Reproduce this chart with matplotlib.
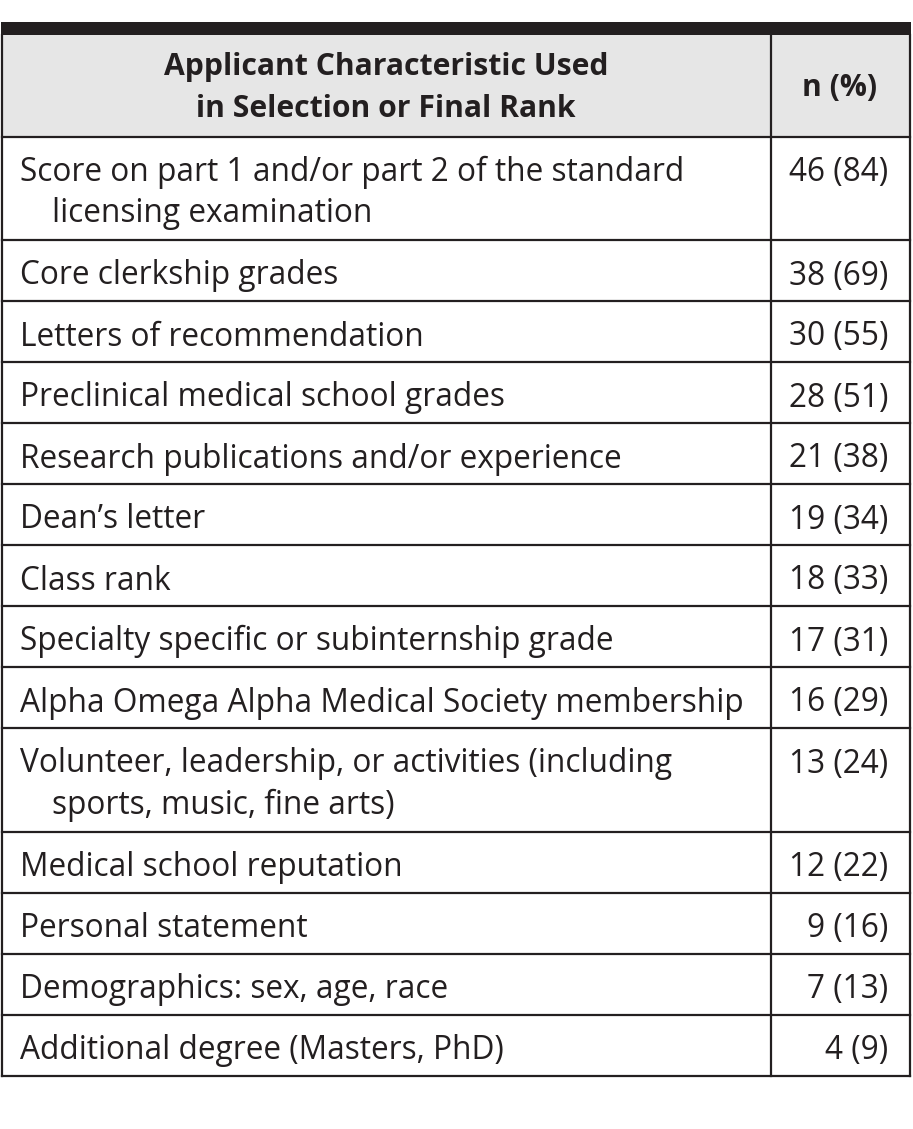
import matplotlib
matplotlib.use("Agg")
import matplotlib.pyplot as plt

header_left = ["Applicant Characteristic Used", "in Selection or Final Rank"]
header_right = "n (%)"

characteristics = [
    ["Score on part 1 and/or part 2 of the standard", "licensing examination"],
    ["Core clerkship grades"],
    ["Letters of recommendation"],
    ["Preclinical medical school grades"],
    ["Research publications and/or experience"],
    ["Dean\u2019s letter"],
    ["Class rank"],
    ["Specialty specific or subinternship grade"],
    ["Alpha Omega Alpha Medical Society membership"],
    ["Volunteer, leadership, or activities (including", "sports, music, fine arts)"],
    ["Medical school reputation"],
    ["Personal statement"],
    ["Demographics: sex, age, race"],
    ["Additional degree (Masters, PhD)"],
]
counts = [46, 38, 30, 28, 21, 19, 18, 17, 16, 13, 12, 9, 7, 4]
percents = [84, 69, 55, 51, 38, 34, 33, 31, 29, 24, 22, 16, 13, 9]

W, H = 913, 1129
fig = plt.figure(figsize=(W / 100, H / 100), dpi=100)
ax = fig.add_axes([0, 0, 1, 1])
ax.set_xlim(0, W)
ax.set_ylim(H, 0)
ax.axis("off")

ink = "#231f20"
font = "Open Sans"
fs = 22.8
fs_head = 21.7
lw = 1.6

x_left, x_div, x_right = 1.5, 770.5, 909.5
band_top, header_top, header_bot = 22, 34.5, 136.5
single_h, extra_h, text_step = 61.0, 42.5, 41.0

# top thick band
ax.fill_between([x_left - 1, x_right + 1], band_top, header_top, color=ink, lw=0, zorder=3)
# header background
ax.fill_between([x_left, x_right], header_top, header_bot, color="#e6e6e6", lw=0, zorder=1)

# header text
ax.text((x_left + x_div) / 2, 75, header_left[0], ha="center", va="baseline",
        fontsize=fs_head, fontweight="bold", family=font, color=ink)
ax.text((x_left + x_div) / 2, 117, header_left[1], ha="center", va="baseline",
        fontsize=fs_head, fontweight="bold", family=font, color=ink)
ax.text((x_div + x_right) / 2, 96, header_right, ha="center",
        va="baseline", fontsize=fs_head, fontweight="bold", family=font, color=ink)

# rows
y = header_bot
bounds = [y]
for lines, n, p in zip(characteristics, counts, percents):
    h = single_h + extra_h * (len(lines) - 1)
    for i, t in enumerate(lines):
        ax.text(20 if i == 0 else 52, y + 44.5 + i * text_step, t, ha="left", va="baseline",
                fontsize=fs, family=font, color=ink)
    ax.text(888, y + 44.5, f"{n} ({p})", ha="right", va="baseline", fontsize=fs,
            family=font, color=ink)
    y += h
    bounds.append(y)

for b in bounds:
    ax.plot([x_left, x_right], [b, b], color=ink, lw=lw, solid_capstyle="projecting", zorder=4)
ax.plot([x_left, x_left], [header_top, bounds[-1]], color=ink, lw=lw, zorder=4)
ax.plot([x_right, x_right], [header_top, bounds[-1]], color=ink, lw=lw, zorder=4)
ax.plot([x_div, x_div], [header_top, bounds[-1]], color=ink, lw=lw, zorder=4)

fig.savefig("out.png", dpi=100, facecolor="white")
